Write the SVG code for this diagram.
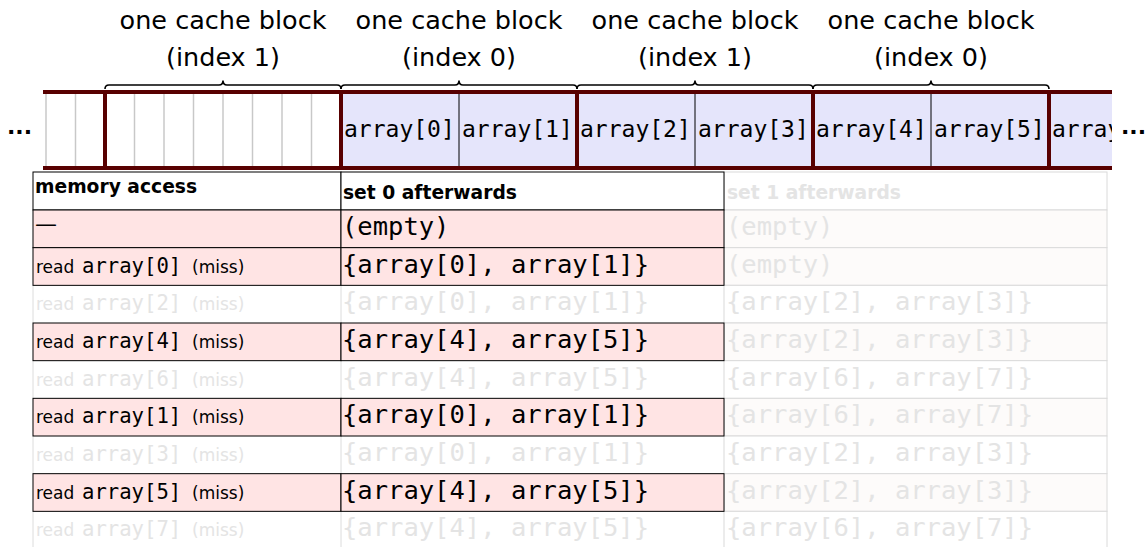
<svg xmlns="http://www.w3.org/2000/svg" width="1146" height="547" viewBox="0 0 1146 547">
<style>
.lbl{font-family:"DejaVu Sans",sans-serif;font-size:25.5px;fill:#000;text-anchor:middle}
.cell{font-family:"DejaVu Sans Mono",monospace;font-size:23px;fill:#000}
.dots{font-family:"DejaVu Sans",sans-serif;font-size:22px;font-weight:bold;fill:#000}
.brace{fill:none;stroke:#000;stroke-width:1.6}
.thick{stroke:#580000;stroke-width:4;fill:none}
.thin{stroke:#000;stroke-width:1}
.grey{stroke:#c8c8c8;stroke-width:1.5}
.hd{font-family:"DejaVu Sans",sans-serif;font-size:18.7px;font-weight:bold;fill:#000}
.s{font-family:"DejaVu Sans",sans-serif;font-size:17px}
.m{font-family:"DejaVu Sans Mono",monospace;font-size:20.6px}
.m2{font-family:"DejaVu Sans Mono",monospace;font-size:25.5px}
.t{fill:#000}
.f{fill:#e4e4e4}
.pink{fill:#ffe4e4;stroke:#000;stroke-width:1}
.white{fill:#fff;stroke:#000;stroke-width:1}
.fz{fill:#fff;stroke:#dadada;stroke-width:1}
.fp{fill:#fdfbfa;stroke:#dadada;stroke-width:1}
</style>
<defs>
<clipPath id="stripclip"><rect x="43" y="88" width="1069" height="84"/></clipPath>
</defs>
<rect width="1146" height="547" fill="#fff"/>

<g id="labels">
<text class="lbl" x="223" y="29">one cache block</text>
<text class="lbl" x="223" y="66">(index 1)</text>
<text class="lbl" x="459" y="29">one cache block</text>
<text class="lbl" x="459" y="66">(index 0)</text>
<text class="lbl" x="695" y="29">one cache block</text>
<text class="lbl" x="695" y="66">(index 1)</text>
<text class="lbl" x="931" y="29">one cache block</text>
<text class="lbl" x="931" y="66">(index 0)</text>
</g>

<g id="braces">
<path class="brace" d="M105,89 q0,-4 4,-4 H219 q4,0 4,-4.5 q0,4.5 4,4.5 H337 q4,0 4,4"/>
<path class="brace" d="M341,89 q0,-4 4,-4 H455 q4,0 4,-4.5 q0,4.5 4,4.5 H573 q4,0 4,4"/>
<path class="brace" d="M577,89 q0,-4 4,-4 H691 q4,0 4,-4.5 q0,4.5 4,4.5 H809 q4,0 4,4"/>
<path class="brace" d="M813,89 q0,-4 4,-4 H927 q4,0 4,-4.5 q0,4.5 4,4.5 H1045 q4,0 4,4"/>
</g>

<g id="memory">
<rect x="341" y="92" width="771" height="76" fill="#e5e5fb"/>
<g class="grey">
<line x1="46" y1="92" x2="46" y2="168"/>
<line x1="75.5" y1="92" x2="75.5" y2="168"/>
<line x1="134.5" y1="92" x2="134.5" y2="168"/>
<line x1="164" y1="92" x2="164" y2="168"/>
<line x1="193.5" y1="92" x2="193.5" y2="168"/>
<line x1="223" y1="92" x2="223" y2="168"/>
<line x1="252.5" y1="92" x2="252.5" y2="168"/>
<line x1="282" y1="92" x2="282" y2="168"/>
<line x1="311.5" y1="92" x2="311.5" y2="168"/>
</g>
<g class="thin">
<line x1="459" y1="92" x2="459" y2="168"/>
<line x1="695" y1="92" x2="695" y2="168"/>
<line x1="931" y1="92" x2="931" y2="168"/>
</g>
<g clip-path="url(#stripclip)">
<text class="cell" x="344" y="137">array[0]</text>
<text class="cell" x="462" y="137">array[1]</text>
<text class="cell" x="580" y="137">array[2]</text>
<text class="cell" x="698" y="137">array[3]</text>
<text class="cell" x="816" y="137">array[4]</text>
<text class="cell" x="934" y="137">array[5]</text>
<text class="cell" x="1052" y="137">array</text>
</g>
<g class="thick">
<line x1="43" y1="92" x2="1112" y2="92"/>
<line x1="43" y1="168" x2="1112" y2="168"/>
<line x1="105" y1="90" x2="105" y2="170"/>
<line x1="341" y1="90" x2="341" y2="170"/>
<line x1="577" y1="90" x2="577" y2="170"/>
<line x1="813" y1="90" x2="813" y2="170"/>
<line x1="1049" y1="90" x2="1049" y2="170"/>
</g>
<text class="dots" x="7" y="134">...</text>
<text class="dots" x="1121" y="134">...</text>
</g>

<g id="col3">
<rect class="fz" x="724" y="172" width="383" height="38"/>
<rect class="fp" x="724" y="210" width="383" height="37.67"/>
<rect class="fp" x="724" y="247.67" width="383" height="37.67"/>
<rect class="fz" x="724" y="285.33" width="383" height="37.67"/>
<rect class="fp" x="724" y="323" width="383" height="37.67"/>
<rect class="fz" x="724" y="360.67" width="383" height="37.67"/>
<rect class="fp" x="724" y="398.33" width="383" height="37.67"/>
<rect class="fz" x="724" y="436" width="383" height="37.67"/>
<rect class="fp" x="724" y="473.67" width="383" height="37.67"/>
<rect class="fz" x="724" y="511.33" width="383" height="40"/>
<text class="hd f" x="727" y="199">set 1 afterwards</text>
<text class="m2 f" x="726" y="235">(empty)</text>
<text class="m2 f" x="726" y="272.5">(empty)</text>
<text class="m2 f" x="726" y="310">{array[2], array[3]}</text>
<text class="m2 f" x="726" y="348">{array[2], array[3]}</text>
<text class="m2 f" x="726" y="385.5">{array[6], array[7]}</text>
<text class="m2 f" x="726" y="423">{array[6], array[7]}</text>
<text class="m2 f" x="726" y="461">{array[2], array[3]}</text>
<text class="m2 f" x="726" y="498.5">{array[2], array[3]}</text>
<text class="m2 f" x="726" y="536">{array[6], array[7]}</text>
</g>

<g id="faded-rows">
<g stroke="#dcdcdc" stroke-width="1">
<line x1="33" y1="285.33" x2="33" y2="323"/>
<line x1="341" y1="285.33" x2="341" y2="323"/>
<line x1="33" y1="360.67" x2="33" y2="398.33"/>
<line x1="341" y1="360.67" x2="341" y2="398.33"/>
<line x1="33" y1="436" x2="33" y2="473.67"/>
<line x1="341" y1="436" x2="341" y2="473.67"/>
<line x1="33" y1="511.33" x2="33" y2="549"/>
<line x1="341" y1="511.33" x2="341" y2="549"/>
</g>
<text class="f" y="310"><tspan class="s" x="36">read</tspan><tspan class="m" x="82">array[2]</tspan><tspan class="s" x="192">(miss)</tspan></text>
<text class="m2 f" x="342" y="310">{array[0], array[1]}</text>
<text class="f" y="385.5"><tspan class="s" x="36">read</tspan><tspan class="m" x="82">array[6]</tspan><tspan class="s" x="192">(miss)</tspan></text>
<text class="m2 f" x="342" y="385.5">{array[4], array[5]}</text>
<text class="f" y="461"><tspan class="s" x="36">read</tspan><tspan class="m" x="82">array[3]</tspan><tspan class="s" x="192">(miss)</tspan></text>
<text class="m2 f" x="342" y="461">{array[0], array[1]}</text>
<text class="f" y="536"><tspan class="s" x="36">read</tspan><tspan class="m" x="82">array[7]</tspan><tspan class="s" x="192">(miss)</tspan></text>
<text class="m2 f" x="342" y="536">{array[4], array[5]}</text>
</g>

<g id="header">
<rect class="white" x="33" y="172" width="308" height="38"/>
<rect class="white" x="341" y="172" width="383" height="38"/>
<text class="hd" x="35" y="193">memory access</text>
<text class="hd" x="343" y="199">set 0 afterwards</text>
</g>

<g id="row1">
<rect class="pink" x="33" y="210" width="308" height="37.67"/>
<rect class="pink" x="341" y="210" width="383" height="37.67"/>
<text class="t" x="35" y="231" font-family="DejaVu Sans, sans-serif" font-size="22">—</text>
<text class="m2 t" x="342" y="235">(empty)</text>
</g>
<g id="row2">
<rect class="pink" x="33" y="247.67" width="308" height="37.67"/>
<rect class="pink" x="341" y="247.67" width="383" height="37.67"/>
<text class="t" y="272.5"><tspan class="s" x="36">read</tspan><tspan class="m" x="82">array[0]</tspan><tspan class="s" x="192">(miss)</tspan></text>
<text class="m2 t" x="342" y="272.5">{array[0], array[1]}</text>
</g>
<g id="row4">
<rect class="pink" x="33" y="323" width="308" height="37.67"/>
<rect class="pink" x="341" y="323" width="383" height="37.67"/>
<text class="t" y="348"><tspan class="s" x="36">read</tspan><tspan class="m" x="82">array[4]</tspan><tspan class="s" x="192">(miss)</tspan></text>
<text class="m2 t" x="342" y="348">{array[4], array[5]}</text>
</g>
<g id="row6">
<rect class="pink" x="33" y="398.33" width="308" height="37.67"/>
<rect class="pink" x="341" y="398.33" width="383" height="37.67"/>
<text class="t" y="423"><tspan class="s" x="36">read</tspan><tspan class="m" x="82">array[1]</tspan><tspan class="s" x="192">(miss)</tspan></text>
<text class="m2 t" x="342" y="423">{array[0], array[1]}</text>
</g>
<g id="row8">
<rect class="pink" x="33" y="473.67" width="308" height="37.67"/>
<rect class="pink" x="341" y="473.67" width="383" height="37.67"/>
<text class="t" y="498.5"><tspan class="s" x="36">read</tspan><tspan class="m" x="82">array[5]</tspan><tspan class="s" x="192">(miss)</tspan></text>
<text class="m2 t" x="342" y="498.5">{array[4], array[5]}</text>
</g>
<g id="connectors"></g>
</svg>
